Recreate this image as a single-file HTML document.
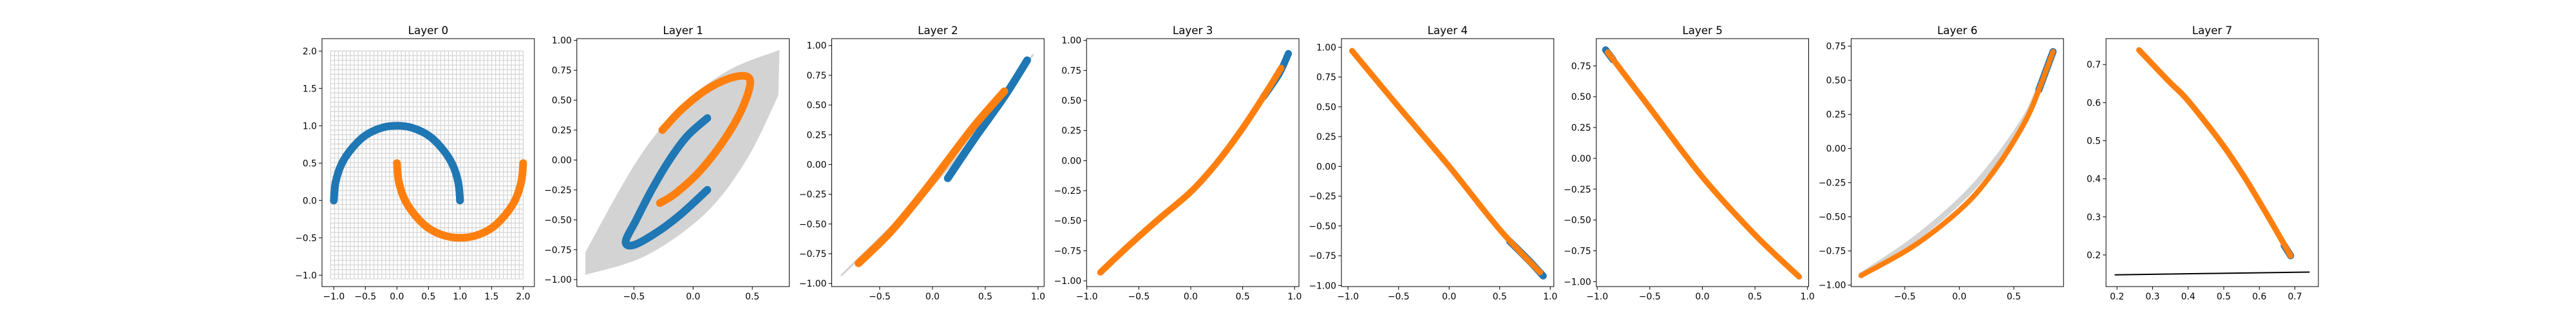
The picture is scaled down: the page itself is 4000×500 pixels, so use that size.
<!DOCTYPE html>
<html><head><meta charset="utf-8"><style>
html,body{margin:0;padding:0;background:#fff;}
svg{display:block;font-family:"DejaVu Sans","Liberation Sans",sans-serif;}
</style></head><body>
<svg id="chart" width="4000" height="500" viewBox="0 0 4000 500" xmlns="http://www.w3.org/2000/svg"></svg>
<script>
// ---- data ----
const l0BlueX=[1.0,0.97,0.87,0.7,0.5,0.25,0,-0.25,-0.5,-0.7,-0.87,-0.97,-1.0];
const l0BlueY=[0.0,0.25,0.5,0.71,0.87,0.97,1.0,0.97,0.87,0.71,0.5,0.25,0.0];
const l0OrangeX=[0,0.03,0.13,0.3,0.5,0.75,1,1.25,1.5,1.7,1.87,1.97,2.0];
const l0OrangeY=[0.5,0.25,0.0,-0.21,-0.37,-0.47,-0.5,-0.47,-0.37,-0.21,0,0.25,0.5];

const l1UpperX=[-0.91,-0.47,-0.1,0.3,0.73];
const l1UpperY=[-0.77,0.0,0.45,0.75,0.92];
const l1LowerX=[0.72,0.45,0.1,-0.4,-0.91];
const l1LowerY=[0.54,0.0,-0.45,-0.8,-0.96];
const l1BlueX=[0.12,-0.05,-0.2,-0.35,-0.48,-0.57,-0.5,-0.3,-0.1,0.12];
const l1BlueY=[0.35,0.2,0.0,-0.25,-0.5,-0.68,-0.71,-0.6,-0.45,-0.25];
const l1OrangeX=[-0.26,-0.1,0.1,0.3,0.45,0.48,0.4,0.25,0.05,-0.15,-0.28];
const l1OrangeY=[0.25,0.42,0.58,0.68,0.7,0.62,0.4,0.15,-0.1,-0.28,-0.36];

const l2GreyX=[-0.86,-0.4,0.1,0.5,0.95];
const l2GreyY=[-0.93,-0.53,-0.08,0.38,0.92];
const l2BlueX=[0.145,0.4,0.68,0.897];
const l2BlueY=[-0.115,0.22,0.57,0.876];
const l2OrangeX=[-0.7,-0.4,-0.1,0.15,0.4,0.68];
const l2OrangeY=[-0.83,-0.57,-0.25,0.04,0.33,0.616];

const l3BlueX=[0.7,0.85,0.94];
const l3BlueY=[0.53,0.72,0.89];
const l3OrangeX=[-0.87,-0.6,-0.3,0,0.25,0.5,0.75,0.87];
const l3OrangeY=[-0.93,-0.71,-0.48,-0.26,-0.02,0.27,0.6,0.77];

const l4BlueX=[0.6,0.8,0.93];
const l4BlueY=[-0.63,-0.8,-0.92];
const l4OrangeX=[-0.96,-0.5,0,0.5,0.9];
const l4OrangeY=[0.97,0.5,0.0,-0.53,-0.89];

const l5BlueX=[-0.92,-0.85];
const l5BlueY=[0.88,0.8];
const l5OrangeX=[-0.9,-0.5,0,0.5,0.92];
const l5OrangeY=[0.86,0.41,-0.15,-0.62,-0.96];

const l6GreyX=[-0.9,-0.47,-0.15,0.12,0.35,0.52,0.64,0.73,0.86];
const l6GreyY=[-0.93,-0.70,-0.495,-0.29,-0.07,0.12,0.275,0.44,0.71];
const l6BlueX=[0.73,0.86];
const l6BlueY=[0.43,0.71];
const l6OrangeX=[-0.9,-0.47,-0.15,0.12,0.35,0.52,0.64,0.73,0.86];
const l6OrangeY=[-0.93,-0.74,-0.555,-0.36,-0.13,0.08,0.255,0.43,0.71];

const l7BlueX=[0.67,0.688];
const l7BlueY=[0.225,0.198];
const l7OrangeX=[0.262,0.3466,0.397,0.491,0.551,0.595,0.639,0.688];
const l7OrangeY=[0.738,0.655,0.608,0.497,0.415,0.348,0.278,0.198];
const l7LineX=[0.195,0.74];
const l7LineY=[0.148,0.155];

// ---- layout / axes config ----
const panels=[
 {x0:-1.187,x1:2.178,y0:-1.153,y1:2.166,xt:[-1,-0.5,0,0.5,1,1.5,2],yt:[-1,-0.5,0,0.5,1,1.5,2],xd:1,yd:1},
 {x0:-0.982,x1:0.812,y0:-1.058,y1:1.0145,xt:[-0.5,0,0.5],yt:[-1,-0.75,-0.5,-0.25,0,0.25,0.5,0.75,1],xd:1,yd:2},
 {x0:-0.954,x1:1.057,y0:-1.026,y1:1.058,xt:[-0.5,0,0.5,1],yt:[-1,-0.75,-0.5,-0.25,0,0.25,0.5,0.75,1],xd:1,yd:2},
 {x0:-1.003,x1:1.042,y0:-1.048,y1:1.0145,xt:[-1,-0.5,0,0.5,1],yt:[-1,-0.75,-0.5,-0.25,0,0.25,0.5,0.75,1],xd:1,yd:2},
 {x0:-1.065,x1:1.035,y0:-1.009,y1:1.072,xt:[-1,-0.5,0,0.5,1],yt:[-1,-0.75,-0.5,-0.25,0,0.25,0.5,0.75,1],xd:1,yd:2},
 {x0:-1.009,x1:1.011,y0:-1.04,y1:0.971,xt:[-1,-0.5,0,0.5,1],yt:[-1,-0.75,-0.5,-0.25,0,0.25,0.5,0.75],xd:1,yd:2},
 {x0:-0.992,x1:0.956,y0:-1.011,y1:0.805,xt:[-0.5,0,0.5],yt:[-1,-0.75,-0.5,-0.25,0,0.25,0.5,0.75],xd:1,yd:2},
 {x0:0.169,x1:0.766,y0:0.117,y1:0.768,xt:[0.2,0.3,0.4,0.5,0.6,0.7],yt:[0.2,0.3,0.4,0.5,0.6,0.7],xd:1,yd:1}
];
const NS='http://www.w3.org/2000/svg';
const svg=document.getElementById('chart');
const L=500,STEP=395.74,W=329.8,T=60,H=385;
function mk(tag,attrs,parent){const e=document.createElementNS(NS,tag);for(const k in attrs)e.setAttribute(k,attrs[k]);parent.appendChild(e);return e;}
function fmt(v,d){const s=Math.abs(v).toFixed(d);return (v<0?'\u2212':'')+s;}
const BLUE='#1f77b4',ORANGE='#ff7f0e',GREY='#d3d3d3';
function smooth(pts,cont){
  let d=cont?' L':'M';
  d+=pts[0][0].toFixed(1)+' '+pts[0][1].toFixed(1);
  for(let k=0;k<pts.length-1;k++){
    const p0=pts[Math.max(0,k-1)],p1=pts[k],p2=pts[k+1],p3=pts[Math.min(pts.length-1,k+2)];
    const c1=[p1[0]+(p2[0]-p0[0])/6,p1[1]+(p2[1]-p0[1])/6];
    const c2=[p2[0]-(p3[0]-p1[0])/6,p2[1]-(p3[1]-p1[1])/6];
    d+=' C'+c1[0].toFixed(1)+' '+c1[1].toFixed(1)+' '+c2[0].toFixed(1)+' '+c2[1].toFixed(1)+' '+p2[0].toFixed(1)+' '+p2[1].toFixed(1);
  }
  return d;
}

panels.forEach((p,i)=>{
  const left=L+i*STEP;
  const sx=v=>left+(v-p.x0)/(p.x1-p.x0)*W;
  const sy=v=>T+H-(v-p.y0)/(p.y1-p.y0)*H;
  const g=mk('g',{},svg);
  
  
  const clipId='clip'+i;
  const cp=mk('clipPath',{id:clipId},g);mk('rect',{x:left,y:T,width:W,height:H},cp);
  const plot=mk('g',{'clip-path':'url(#'+clipId+')'},g);
  
  
  const pts=(xs,ys)=>xs.map((x,k)=>[sx(x),sy(ys[k])]);
  const series=(xs,ys,color,w,name)=>{
    const e=mk('path',{d:smooth(pts(xs,ys)),fill:'none',stroke:color,'stroke-width':w,'stroke-linecap':'round','stroke-linejoin':'round'},plot);
    
    
  };
  if(i===0){
    const gg=mk('g',{stroke:GREY,'stroke-width':1.2},plot);
    
    
    const n=50,a=-1.05,b=2.0;
    for(let k=0;k<n;k++){const v=a+(b-a)*k/(n-1);
      mk('line',{x1:sx(v),x2:sx(v),y1:sy(a),y2:sy(b)},gg);
      mk('line',{x1:sx(a),x2:sx(b),y1:sy(v),y2:sy(v)},gg);}
    series(l0BlueX,l0BlueY,BLUE,12,'blue-moon');
    series(l0OrangeX,l0OrangeY,ORANGE,12,'orange-moon');
  } else if(i===1){
    const d=smooth(pts(l1UpperX,l1UpperY))+smooth(pts(l1LowerX,l1LowerY),true)+' Z';
    const r=mk('path',{d:d,fill:GREY,stroke:'none'},plot);
    
    
    series(l1BlueX,l1BlueY,BLUE,12,'blue-series');
    series(l1OrangeX,l1OrangeY,ORANGE,12,'orange-series');
  } else if(i===2){
    series(l2GreyX,l2GreyY,GREY,3,'grid-curve');
    series(l2BlueX,l2BlueY,BLUE,12,'blue-series');
    series(l2OrangeX,l2OrangeY,ORANGE,12,'orange-series');
  } else if(i===3){
    series(l3OrangeX,l3OrangeY,GREY,4,'grid-curve');
    series(l3BlueX,l3BlueY,BLUE,11,'blue-series');
    series(l3OrangeX,l3OrangeY,ORANGE,10,'orange-series');
  } else if(i===4){
    series(l4OrangeX,l4OrangeY,GREY,4,'grid-curve');
    series(l4BlueX,l4BlueY,BLUE,11,'blue-series');
    series(l4OrangeX,l4OrangeY,ORANGE,9,'orange-series');
  } else if(i===5){
    series(l5OrangeX,l5OrangeY,GREY,5,'grid-curve');
    series(l5BlueX,l5BlueY,BLUE,11,'blue-series');
    series(l5OrangeX,l5OrangeY,ORANGE,9,'orange-series');
  } else if(i===6){
    series(l6GreyX,l6GreyY,GREY,9,'grid-curve');
    series(l6BlueX,l6BlueY,BLUE,11,'blue-series');
    series(l6OrangeX,l6OrangeY,ORANGE,8,'orange-series');
  } else {
    series(l7OrangeX,l7OrangeY,GREY,7,'grid-curve');
    series(l7BlueX,l7BlueY,BLUE,11,'blue-series');
    series(l7OrangeX,l7OrangeY,ORANGE,9,'orange-series');
    series(l7LineX,l7LineY,'#000',2,'black-line');
  }
  const fr=mk('rect',{x:left,y:T,width:W,height:H,fill:'none',stroke:'#000','stroke-width':1},g);
  
  
  p.xt.forEach(v=>{const x=sx(v);
    mk('line',{x1:x,x2:x,y1:T+H,y2:T+H+4.9,stroke:'#000','stroke-width':1},g);
    const t=mk('text',{x:x,y:T+H+20,'font-size':13.9,'text-anchor':'middle',fill:'#000'},g);
    t.textContent=fmt(v,p.xd);
    
    });
  p.yt.forEach(v=>{const y=sy(v);
    mk('line',{x1:left-4.9,x2:left,y1:y,y2:y,stroke:'#000','stroke-width':1},g);
    const t=mk('text',{x:left-8,y:y+5,'font-size':13.9,'text-anchor':'end',fill:'#000'},g);
    t.textContent=fmt(v,p.yd);
    
    });
  const tt=mk('text',{x:left+W/2,y:T-7,'font-size':16.7,'text-anchor':'middle',fill:'#000'},g);
  tt.textContent='Layer '+i;
  
  
});
</script>
</body></html>
